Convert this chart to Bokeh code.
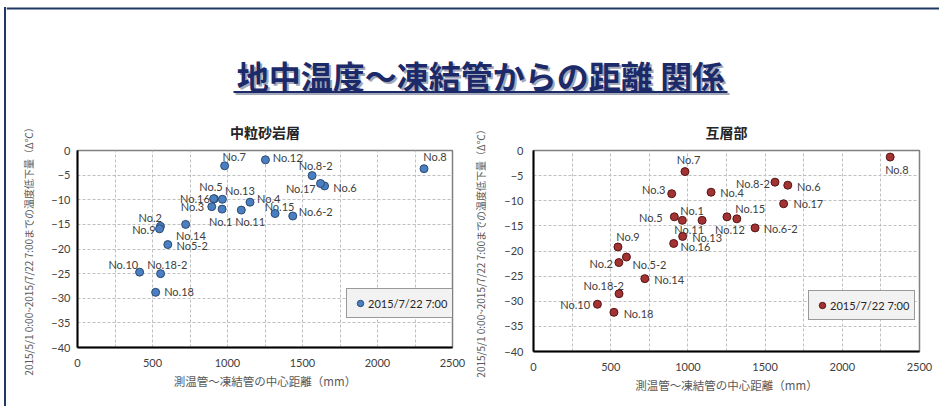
from bokeh.plotting import figure
from bokeh.models import Range1d, FixedTicker, ColumnDataSource, Div
from bokeh.layouts import column, row
from bokeh.core.properties import value
from bokeh.embed import file_html
from bokeh.resources import INLINE

# ---------------- data ----------------
main_title = "地中温度～凍結管からの距離 関係"
title_sand = "中粒砂岩層"
title_alt = "互層部"
x_label = "測温管～凍結管の中心距離（mm）"
y_label = "2015/5/1 0:00~2015/7/22 7:00までの温度低下量（Δ℃）"
series_name = "2015/7/22 7:00"

names_alt = ["No.1", "No.2", "No.3", "No.4", "No.5", "No.5-2", "No.6", "No.6-2",
             "No.7", "No.8", "No.8-2", "No.9", "No.10", "No.11", "No.12", "No.13",
             "No.14", "No.15", "No.16", "No.17", "No.18", "No.18-2"]
names_sand = ["No.1", "No.2", "No.3", "No.4", "No.5", "No5-2", "No.6", "No.6-2",
              "No.7", "No.8", "No.8-2", "No.9", "No.10", "No.11", "No.12", "No.13",
              "No.14", "No.15", "No.16", "No.17", "No.18", "No.18-2"]
distance_mm = [964, 553, 895, 1150, 912, 602, 1647, 1435,
               981, 2310, 1564, 547, 414, 1092, 1253, 966,
               721, 1317, 908, 1620, 521, 554]
drop_sand = [-11.9, -15.4, -11.4, -10.5, -9.8, -19.1, -7.2, -13.3,
             -3.1, -3.7, -5.1, -15.9, -24.7, -12.1, -1.9, -9.9,
             -15.0, -12.8, -9.8, -6.7, -28.8, -25.0]
drop_alt = [-13.9, -22.3, -8.6, -8.3, -13.2, -21.2, -6.9, -15.4,
            -4.2, -1.3, -6.3, -19.2, -30.6, -13.9, -13.2, -17.1,
            -25.5, -13.6, -18.5, -10.6, -32.2, -28.5]

x_ticks = [0, 500, 1000, 1500, 2000, 2500]
y_ticks = [-40, -35, -30, -25, -20, -15, -10, -5, 0]

# label placement (screen px from the point, y down)
lab_dx_sand = [-1.4, -10.3, -19.3, 18.7, -3.4, 24.3, 20.4, 23, 9.5, 11, 3.6, -15.7,
               -16.3, 8.8, 22.2, 17.5, 5.2, 4.5, -18.8, -19.7, 23.4, 6.7]
lab_dy_sand = [12.7, -8.7, 0, -3.3, -12.3, 1, 1.7, -4.3, -9.3, -12, -9.7, 1,
               -7.4, 11, -2, -9, 11, -7.3, 0, 5, -0.7, -9.3]
lab_dx_alt = [9.7, -17.7, -18, 21, -23.5, 23, 21, 25.7, 3.6, 6.7, -22, 10,
              -22.3, -12.9, 3, 24.5, 24.4, 13.3, 21.7, 24.7, 24.6, -15.4]
lab_dy_alt = [-9.7, 1.4, -4.3, 0.6, 0.7, 7.4, 1, 0.7, -12.4, 12.7, 1, -10,
              0.7, 9.3, 13, 0.6, 0.7, -10.3, 2.7, 0, 1, -8.6]

JP = "Noto Sans CJK JP"
LAT = "Lato"


def make_chart(title, names, ys, dx, dy, fill, line, fw, fh, bl, br, bt, bb,
               title_offset, title_standoff, leg_loc, ytick_standoff, ylab_standoff):
    p = figure(frame_width=fw, frame_height=fh,
               min_border_left=bl, min_border_right=br,
               min_border_top=bt, min_border_bottom=bb,
               x_range=Range1d(0, 2500), y_range=Range1d(-40, 0),
               toolbar_location=None, output_backend="svg")
    p.background_fill_color = "white"
    p.border_fill_color = "white"
    p.outline_line_color = "#808080"
    p.outline_line_width = 1.5

    p.title.text = title
    p.title.align = "center"
    p.title.offset = title_offset
    p.title.standoff = title_standoff
    p.title.text_font = JP
    p.title.text_font_size = "14px"
    p.title.text_font_style = "bold"
    p.title.text_color = "#262626"

    p.xaxis.ticker = FixedTicker(ticks=x_ticks)
    p.yaxis.ticker = FixedTicker(ticks=y_ticks)
    p.xgrid.ticker = FixedTicker(ticks=list(range(250, 2500, 250)))
    p.ygrid.ticker = FixedTicker(ticks=list(range(-35, 0, 5)))
    for g in (p.xgrid[0], p.ygrid[0]):
        g.grid_line_color = "#bfbfbf"
        g.grid_line_dash = "3 2"
        g.grid_line_width = 1

    for ax in (p.xaxis[0], p.yaxis[0]):
        ax.major_tick_line_color = None
        ax.minor_tick_line_color = None
        ax.major_tick_out = 0
        ax.major_tick_in = 0
        ax.axis_line_color = "black"
        ax.axis_line_width = 2
        ax.major_label_text_font = LAT
        ax.major_label_text_font_size = "11px"
        ax.major_label_text_color = "#404040"
        ax.axis_label_text_font = JP
        ax.axis_label_text_font_style = "normal"
        ax.axis_label_text_color = "#595959"

    p.xaxis.axis_label = x_label
    p.xaxis.axis_label_text_font_size = "11.5px"
    p.xaxis.major_label_standoff = 11
    p.xaxis.axis_label_standoff = 3
    p.yaxis.axis_label = y_label
    p.yaxis.axis_label_text_font_size = "10px"
    p.yaxis.major_label_standoff = ytick_standoff
    p.yaxis.axis_label_standoff = ylab_standoff

    src = ColumnDataSource(dict(x=distance_mm, y=ys, name=names, dx=dx, dy=dy))
    p.text(x="x", y="y", text="name", x_offset="dx", y_offset="dy", source=src,
           text_font=value(LAT), text_font_size="11px", text_color="#404040",
           text_align="center", text_baseline="middle")
    p.scatter(x="x", y="y", source=src, marker="circle", size=8,
              fill_color=fill, line_color=line, line_width=1,
              legend_label=series_name)

    lg = p.legend[0]
    lg.location = leg_loc
    lg.margin = 0
    lg.padding = 5
    lg.spacing = 0
    lg.border_line_color = "#404040"
    lg.border_line_width = 1.5
    lg.background_fill_color = "#f2f2f2"
    lg.background_fill_alpha = 1
    lg.glyph_width = 16
    lg.glyph_height = 18
    lg.label_height = 18
    lg.label_standoff = 0
    lg.label_text_font = LAT
    lg.label_text_font_size = "11px"
    lg.label_text_color = "#262626"
    return p


p_sand = make_chart(title_sand, names_sand, drop_sand, lab_dx_sand, lab_dy_sand,
                    "#4a7fc1", "#2b4a70", 375, 197, 71, 18, 40, 59,
                    -7, 18, (269, 29), 7, 12)
p_alt = make_chart(title_alt, names_alt, drop_alt, lab_dx_alt, lab_dy_alt,
                   "#a33232", "#561515", 386, 201, 63, 20, 37, 58,
                   -6, 17, (275, 31), 10, 13)

# ---------------- page title ----------------
TW, TH = 933, 110
tf = figure(width=TW, height=TH, x_range=Range1d(0, TW), y_range=Range1d(0, TH),
            x_axis_type=None, y_axis_type=None, toolbar_location=None,
            output_backend="svg", min_border=0)
tf.grid.visible = False
tf.outline_line_color = None
tf.background_fill_color = "white"
tf.border_fill_color = "white"
navy = "#1c2a6a"
shadow = "#a3a8b8"
frame_col = "#1f3864"
tf.segment(x0=[0], y0=[102], x1=[TW], y1=[102], line_color=frame_col, line_width=2)
tf.text(x=[476], y=[34], text=[main_title], text_font=value(JP), text_font_size="32px",
        text_font_style="bold", text_color=shadow, text_align="center",
        text_baseline="middle")
tf.segment(x0=[229], y0=[16.5], x1=[723], y1=[16.5], line_color=shadow, line_width=2)
tf.text(x=[474], y=[36], text=[main_title], text_font=value(JP), text_font_size="32px",
        text_font_style="bold", text_color=navy, text_align="center",
        text_baseline="middle")
tf.segment(x0=[227], y0=[18.5], x1=[721], y1=[18.5], line_color=navy, line_width=2)

edge = Div(text="", width=6, height=406, margin=0,
           styles={"background": "linear-gradient(to right, #ffffff 4px, rgba(255,255,255,0) 4px), "
                                 "linear-gradient(to bottom, #ffffff 7px, #1f3864 7px)"})

layout = row(edge, column(tf, row(p_sand, p_alt)))

open("out.html", "w", encoding="utf-8").write(file_html(layout, INLINE))
